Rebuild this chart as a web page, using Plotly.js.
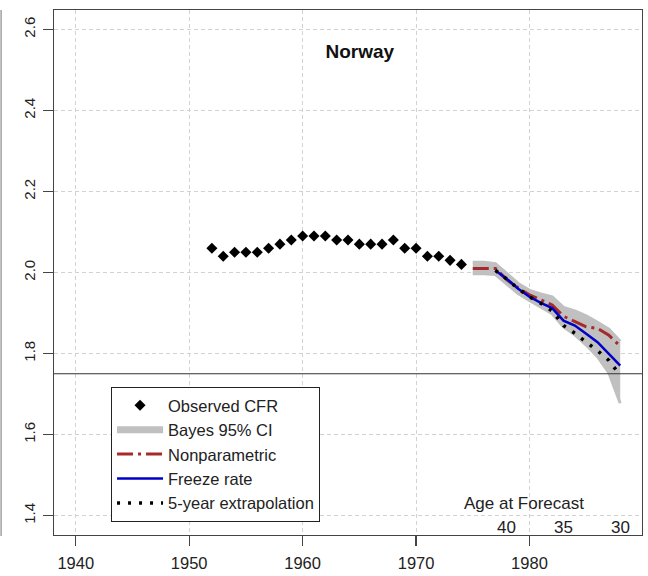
<!DOCTYPE html>
<html>
<head>
<meta charset="utf-8">
<script src="https://cdn.plot.ly/plotly-3.0.1.min.js"></script>
<style>
  html, body { margin: 0; padding: 0; background: #ffffff; }
  #chart { width: 648px; height: 576px; }
</style>
</head>
<body>
<div id="chart"></div>
<script>
// ---- Observed completed fertility rate ----
const obsYears = [1952, 1953, 1954, 1955, 1956, 1957, 1958, 1959, 1960, 1961, 1962, 1963,
                  1964, 1965, 1966, 1967, 1968, 1969, 1970, 1971, 1972, 1973, 1974];
const obsCFR   = [2.06, 2.04, 2.05, 2.05, 2.05, 2.06, 2.07, 2.08, 2.09, 2.09, 2.09, 2.08,
                  2.08, 2.07, 2.07, 2.07, 2.08, 2.06, 2.06, 2.04, 2.04, 2.03, 2.02];

// ---- Forecast cohorts ----
const fcYears  = [1975, 1976, 1977, 1978, 1979, 1980, 1981, 1982, 1983, 1984, 1985, 1986, 1987, 1988];
const ciUpper  = [2.025, 2.025, 2.022, 1.997, 1.973, 1.956, 1.947, 1.940, 1.914, 1.905, 1.893, 1.877, 1.860, 1.830];
const ciLower  = [1.997, 1.997, 1.995, 1.972, 1.948, 1.931, 1.914, 1.898, 1.866, 1.846, 1.821, 1.792, 1.752, 1.677];
const nonpar   = [2.010, 2.010, 2.010, 1.982, 1.962, 1.945, 1.933, 1.920, 1.892, 1.880, 1.866, 1.862, 1.845, 1.818];

const frYears  = [1977, 1978, 1979, 1980, 1981, 1982, 1983, 1984, 1985, 1986, 1987, 1988];
const freeze   = [2.005, 1.984, 1.960, 1.940, 1.925, 1.912, 1.881, 1.869, 1.849, 1.828, 1.799, 1.770];
const extrap   = [2.005, 1.984, 1.960, 1.940, 1.924, 1.905, 1.869, 1.850, 1.828, 1.807, 1.783, 1.746];

// ---- Axis ticks / labels ----
const xTicks = [1940, 1950, 1960, 1970, 1980];
const yTicks = [1.4, 1.6, 1.8, 2.0, 2.2, 2.4, 2.6];
const yTickText = ['1.4', '1.6', '1.8', '2.0', '2.2', '2.4', '2.6'];
const ageYears  = [1978, 1983, 1988];
const ageLabels = ['40', '35', '30'];
const refLineY = 1.75;
const chartTitle = 'Norway';

const FONT = 'Liberation Sans, Arial, Helvetica, sans-serif';
const GRAY = '#c0c0c0';
const GRID = '#d2d2d2';

const traces = [
  { x: fcYears, y: ciUpper, mode: 'lines', line: { color: GRAY, width: 3 },
    showlegend: false, hoverinfo: 'skip' },
  { x: fcYears, y: ciLower, mode: 'lines', line: { color: GRAY, width: 3 },
    fill: 'tonexty', fillcolor: GRAY, showlegend: false, hoverinfo: 'skip' },
  { x: [null], y: [null], mode: 'lines', name: 'Bayes 95% CI',
    line: { color: GRAY, width: 7 }, legendrank: 2 },
  { x: fcYears, y: nonpar, mode: 'lines', name: 'Nonparametric',
    line: { color: '#a52a2a', width: 3, dash: '16px,5px,3px,5px' }, legendrank: 3 },
  { x: frYears, y: freeze, mode: 'lines', name: 'Freeze rate',
    line: { color: '#0000c8', width: 2.5 }, legendrank: 4 },
  { x: frYears, y: extrap, mode: 'lines', name: '5-year extrapolation',
    line: { color: '#000000', width: 3.5, dash: '3px,8px' }, legendrank: 5 },
  { x: obsYears, y: obsCFR, mode: 'markers', name: 'Observed CFR',
    marker: { symbol: 'diamond', size: 8.5, color: '#000000' }, legendrank: 1 }
];

const annotations = ageYears.map((yr, i) => ({
  x: yr, xref: 'x', y: 0.015, yref: 'paper', text: ageLabels[i],
  showarrow: false, xanchor: 'center', yanchor: 'middle',
  font: { family: FONT, size: 17, color: '#222' }
}));
annotations.push({
  x: 0.799, xref: 'paper', y: 0.060, yref: 'paper', text: 'Age at Forecast',
  showarrow: false, xanchor: 'center', yanchor: 'middle',
  font: { family: FONT, size: 17, color: '#222' }
});

const layout = {
  width: 648, height: 576,
  margin: { l: 54, r: 6, t: 10, b: 41, pad: 0 },
  paper_bgcolor: '#ffffff', plot_bgcolor: '#ffffff',
  font: { family: FONT, color: '#222' },
  title: { text: '<b>' + chartTitle + '</b>', x: 0.520, xref: 'paper', y: 0.922, yref: 'paper',
           xanchor: 'center', yanchor: 'middle', font: { family: FONT, size: 19, color: '#111' } },
  xaxis: {
    range: [1938.08, 1989.92], tickvals: xTicks, ticktext: xTicks.map(String),
    showgrid: true, gridcolor: GRID, griddash: '4px,3px', gridwidth: 1,
    zeroline: false, showline: true, mirror: true, linecolor: '#444', linewidth: 1.2,
    ticks: 'outside', ticklen: 10, tickcolor: '#444', tickwidth: 1.2,
    ticklabelstandoff: 3,
    tickfont: { family: FONT, size: 16.5, color: '#222' }, automargin: false
  },
  yaxis: {
    range: [1.352, 2.648], tickvals: yTicks, ticktext: yTickText, tickangle: -90,
    showgrid: true, gridcolor: GRID, griddash: '4px,3px', gridwidth: 1,
    zeroline: false, showline: true, mirror: true, linecolor: '#444', linewidth: 1.2,
    ticks: 'outside', ticklen: 10, tickcolor: '#444', tickwidth: 1.2,
    ticklabelstandoff: 2,
    tickfont: { family: FONT, size: 15, color: '#222' }, automargin: false
  },
  shapes: [
    { type: 'line', xref: 'paper', x0: 0, x1: 1, yref: 'y', y0: refLineY, y1: refLineY,
      line: { color: '#333', width: 1.2 } },
    { type: 'line', xref: 'paper', x0: -0.090, x1: -0.090, yref: 'paper', y0: -0.002, y1: 1,
      line: { color: '#888', width: 1.2 } }
  ],
  legend: {
    x: 0.097, xanchor: 'left', y: 0.282, yanchor: 'top',
    bgcolor: '#ffffff', bordercolor: '#222', borderwidth: 1,
    font: { family: FONT, size: 16.5, color: '#222' },
    itemwidth: 46, tracegroupgap: 0, traceorder: 'normal'
  },
  annotations: annotations,
  showlegend: true
};

Plotly.newPlot('chart', traces, layout, { displayModeBar: false, staticPlot: true });
</script>
</body>
</html>
